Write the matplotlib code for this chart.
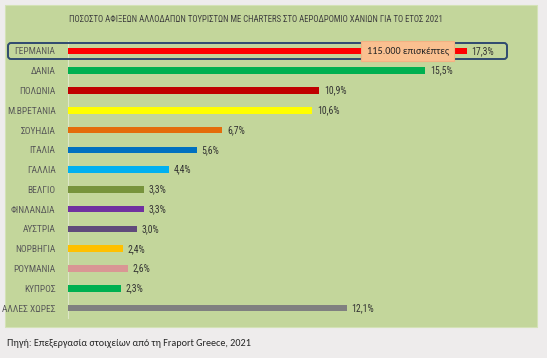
import matplotlib.pyplot as plt
from matplotlib.patches import Rectangle, FancyBboxPatch

# data
countries = ["ΓΕΡΜΑΝΙΑ", "ΔΑΝΙΑ", "ΠΟΛΩΝΙΑ", "Μ.ΒΡΕΤΑΝΙΑ", "ΣΟΥΗΔΙΑ", "ΙΤΑΛΙΑ",
             "ΓΑΛΛΙΑ", "ΒΕΛΓΙΟ", "ΦΙΝΛΑΝΔΙΑ", "ΑΥΣΤΡΙΑ", "ΝΟΡΒΗΓΙΑ", "ΡΟΥΜΑΝΙΑ",
             "ΚΥΠΡΟΣ", "ΑΛΛΕΣ ΧΩΡΕΣ"]
shares = [17.3, 15.5, 10.9, 10.6, 6.7, 5.6, 4.4, 3.3, 3.3, 3.0, 2.4, 2.6, 2.3, 12.1]
colors = ["#ff0000", "#00b050", "#c00000", "#ffff00", "#e46c0a", "#0070c0",
          "#00b0f0", "#77933c", "#7030a0", "#604a7b", "#ffc000", "#d99694",
          "#00b050", "#808080"]
title = "ΠΟΣΟΣΤΟ ΑΦΙΞΕΩΝ ΑΛΛΟΔΑΠΩΝ ΤΟΥΡΙΣΤΩΝ ΜΕ CHARTERS ΣΤΟ ΑΕΡΟΔΡΟΜΙΟ ΧΑΝΙΩΝ ΓΙΑ ΤΟ ΕΤΟΣ 2021"
callout = "115.000 επισκέπτες"
source = "Πηγή: Επεξεργασία στοιχείων από τη Fraport Greece, 2021"

narrow = ["Roboto Condensed", "DejaVu Sans"]
calibri = ["Carlito", "DejaVu Sans"]

W, H = 547, 358
fig = plt.figure(figsize=(W / 100, H / 100), dpi=100)
fig.patch.set_facecolor("#eeecec")

# green panel
fig.add_artist(Rectangle((5 / W, 1 - 327 / H), 532 / W, 322 / H,
                         transform=fig.transFigure, facecolor="#c3d69b",
                         edgecolor="#d4e2b6", lw=0.8, zorder=0))

ax = fig.add_axes([68 / W, 1 - 318 / H, 461 / W, 277 / H])
ax.set_facecolor("none")
y = list(range(len(countries)))
ax.barh(y, shares, height=0.33, color=colors, zorder=3)
ax.set_xlim(0, 20)
ax.set_ylim(len(countries) - 0.5, -0.5)

for yi, v in zip(y, shares):
    ax.text(v + 0.2, yi, f"{v:.1f}%".replace(".", ","), va="center", ha="left",
            fontsize=7, color="#333333", family=narrow, zorder=4)

ax.set_yticks(y)
ax.set_yticklabels(countries, family=narrow, fontsize=6.8, color="#595959")
ax.tick_params(axis="y", length=0, pad=9)
ax.set_xticks([])
for s in ["top", "right", "bottom"]:
    ax.spines[s].set_visible(False)
ax.spines["left"].set_color("#dde7c7")
ax.spines["left"].set_linewidth(0.8)

# highlight frame around the first row
frame = FancyBboxPatch((0.08, (H - 59) / 100), 4.99, 0.16,
                       boxstyle="round,pad=0,rounding_size=0.03",
                       transform=fig.dpi_scale_trans, facecolor="none",
                       edgecolor="#2f4a6f", lw=1.4, clip_on=False, zorder=5)
ax.add_patch(frame)

ax.text(14.74, 0, callout, ha="center", va="center", fontsize=7.3,
        family=calibri, color="#262626", zorder=6,
        bbox=dict(boxstyle="square,pad=0.55", facecolor="#fac090",
                  edgecolor="#f4b183", lw=0.8))

fig.text(256 / W, 1 - 19 / H, title, ha="center", va="center", fontsize=6.3,
         family=narrow, color="#404040")
fig.text(7 / W, 1 - 343 / H, source, ha="left", va="center", fontsize=7.3,
         family=calibri, color="#262626")

fig.savefig("out.png", dpi=100)
